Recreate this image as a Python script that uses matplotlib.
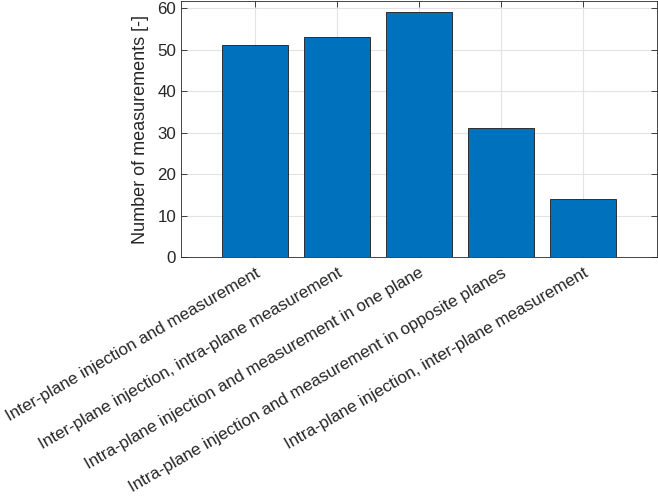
import matplotlib
matplotlib.use('Agg')
import matplotlib.pyplot as plt
import matplotlib.transforms as mtransforms
import numpy as np

plt.rcParams['font.family'] = ['Liberation Sans', 'DejaVu Sans']

categories = [
    'Inter-plane injection and measurement',
    'Inter-plane injection, intra-plane measurement',
    'Intra-plane injection and measurement in one plane',
    'Intra-plane injection and measurement in opposite planes',
    'Intra-plane injection, inter-plane measurement',
]
counts = [51, 53, 59, 31, 14]

fig = plt.figure(figsize=(6.58, 5.01), dpi=100)
# axes box placed in pixel terms of the 658x501 canvas
ax = fig.add_axes([181 / 658, 1 - 257 / 501, 476 / 658, 256 / 501])

x = np.arange(1, len(counts) + 1)
ax.bar(x, counts, width=0.8, color='#0072BD', edgecolor='#1a1a1a', linewidth=0.6, zorder=3)

ax.set_xlim(0.1, 5.9)
ax.set_ylim(0, 61.7)
ax.set_yticks(np.arange(0, 61, 10))
ax.set_xticks(x)
ax.set_xticklabels(categories, rotation=30, ha='right', rotation_mode='anchor', fontsize=12.25)
ax.set_ylabel('Number of measurements [-]', fontsize=13, color='#262626', labelpad=6)

# nudge the rotated labels a little right/down, like the original layout
offset = mtransforms.ScaledTranslation(5 / 100, -3 / 100, fig.dpi_scale_trans)
for lbl in ax.get_xticklabels():
    lbl.set_transform(lbl.get_transform() + offset)

ax.grid(True, color='#e3e3e3', linewidth=0.8, zorder=0)
ax.tick_params(direction='in', top=True, right=True, colors='#262626',
               length=4, width=0.6)
ax.tick_params(axis='y', labelsize=12.2)
ax.tick_params(axis='x', pad=6)
for s in ax.spines.values():
    s.set_color('#262626')
    s.set_linewidth(0.6)

fig.savefig('out.png', dpi=100)
